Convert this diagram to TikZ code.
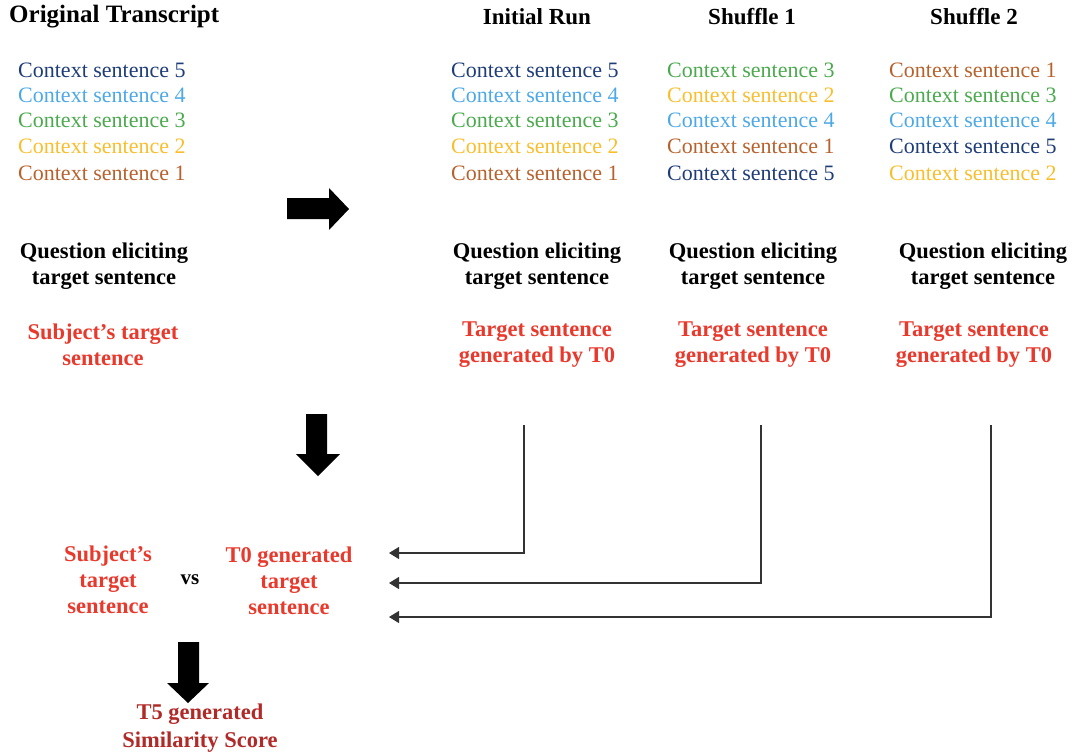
\documentclass[tikz,border=0pt]{standalone}
\usepackage{fontspec}
\setmainfont{Liberation Serif}
\usetikzlibrary{arrows.meta}

\definecolor{csNavy}{HTML}{1F3D78}
\definecolor{csBlue}{HTML}{4DA9E6}
\definecolor{csGreen}{HTML}{4BAA4E}
\definecolor{csYellow}{HTML}{F8BE2E}
\definecolor{csBrown}{HTML}{B7622D}
\definecolor{tgtRed}{HTML}{E8392D}
\definecolor{scoreRed}{HTML}{B02A28}

\tikzset{
  ctx/.style={anchor=base west, inner sep=0pt, font=\fontsize{22}{26}\selectfont},
  hdr/.style={inner sep=0pt, font=\fontsize{23}{26}\selectfont\bfseries},
  qtext/.style={inner sep=0pt, align=center, font=\fontsize{22.5}{26}\selectfont\bfseries},
  rtext/.style={qtext, text=tgtRed},
  bigarrow/.style={fill=black, draw=none},
  link/.style={draw=black!80, line width=1.1pt, -{Triangle[length=10pt,width=12pt]}}
}

\begin{document}
\begin{tikzpicture}[x=1pt, y=-1pt]
\useasboundingbox (0,0) rectangle (1076,755);

% column headers
\node[hdr, anchor=west, font=\fontsize{25}{26}\selectfont\bfseries] (hOrig) at (9,17) {Original Transcript};
\node[hdr] (hInit) at (537,17) {Initial Run};
\node[hdr] (hS1)   at (752,17) {Shuffle 1};
\node[hdr] (hS2)   at (974,17) {Shuffle 2};

% original transcript
\node[ctx, text=csNavy]   (o5) at (18,77)  {Context sentence 5};
\node[ctx, text=csBlue]   (o4) at (18,102) {Context sentence 4};
\node[ctx, text=csGreen]  (o3) at (18,127) {Context sentence 3};
\node[ctx, text=csYellow] (o2) at (18,153) {Context sentence 2};
\node[ctx, text=csBrown]  (o1) at (18,180) {Context sentence 1};

% initial run
\node[ctx, text=csNavy]   (i5) at (451,77)  {Context sentence 5};
\node[ctx, text=csBlue]   (i4) at (451,102) {Context sentence 4};
\node[ctx, text=csGreen]  (i3) at (451,127) {Context sentence 3};
\node[ctx, text=csYellow] (i2) at (451,153) {Context sentence 2};
\node[ctx, text=csBrown]  (i1) at (451,180) {Context sentence 1};

% shuffle 1
\node[ctx, text=csGreen]  (a3) at (667,77)  {Context sentence 3};
\node[ctx, text=csYellow] (a2) at (667,102) {Context sentence 2};
\node[ctx, text=csBlue]   (a4) at (667,127) {Context sentence 4};
\node[ctx, text=csBrown]  (a1) at (667,153) {Context sentence 1};
\node[ctx, text=csNavy]   (a5) at (667,180) {Context sentence 5};

% shuffle 2
\node[ctx, text=csBrown]  (b1) at (889,77)  {Context sentence 1};
\node[ctx, text=csGreen]  (b3) at (889,102) {Context sentence 3};
\node[ctx, text=csBlue]   (b4) at (889,127) {Context sentence 4};
\node[ctx, text=csNavy]   (b5) at (889,153) {Context sentence 5};
\node[ctx, text=csYellow] (b2) at (889,180) {Context sentence 2};

% right arrow
\fill[bigarrow] (287,198) -- (329,198) -- (329,188) -- (349,209) -- (329,230)
  -- (329,219) -- (287,219) -- cycle;

% questions
\node[qtext] (qO) at (104,266) {Question eliciting\\target sentence};
\node[qtext] (qI) at (537,266) {Question eliciting\\target sentence};
\node[qtext] (q1) at (753,266) {Question eliciting\\target sentence};
\node[qtext] (q2) at (983,266) {Question eliciting\\target sentence};

% target sentences
\node[rtext] (tO) at (103,345) {Subject’s target\\sentence};
\node[rtext] (tI) at (537,345) {Target sentence\\generated by T0};
\node[rtext] (t1) at (753,345) {Target sentence\\generated by T0};
\node[rtext] (t2) at (974,345) {Target sentence\\generated by T0};

% down arrow
\fill[bigarrow] (306,414) -- (327,414) -- (327,454) -- (340,454) -- (318,476)
  -- (296,454) -- (306,454) -- cycle;

% comparison
\node[rtext] (cS) at (108,580) {Subject’s\\target\\sentence};
\node[qtext, font=\fontsize{21}{26}\selectfont\bfseries] (vs) at (190,580) {vs};
\node[rtext] (cT) at (289,581) {T0 generated\\target\\sentence};

% feeds from the three runs
\coordinate (s1) at (524,425);
\coordinate (s2) at (761,425);
\coordinate (s3) at (991,425);
\coordinate (e1) at (389,553);
\coordinate (e2) at (389,583);
\coordinate (e3) at (389,617);
\draw[link] (s1) |- (e1);
\draw[link] (s2) |- (e2);
\draw[link] (s3) |- (e3);

% down arrow to score
\fill[bigarrow] (178,642) -- (199,642) -- (199,683) -- (209,683) -- (188,703)
  -- (167,683) -- (178,683) -- cycle;

\node[qtext, text=scoreRed, font=\fontsize{22.5}{28}\selectfont\bfseries] (score) at (200,728) {T5 generated\\Similarity Score};
\end{tikzpicture}
\end{document}
